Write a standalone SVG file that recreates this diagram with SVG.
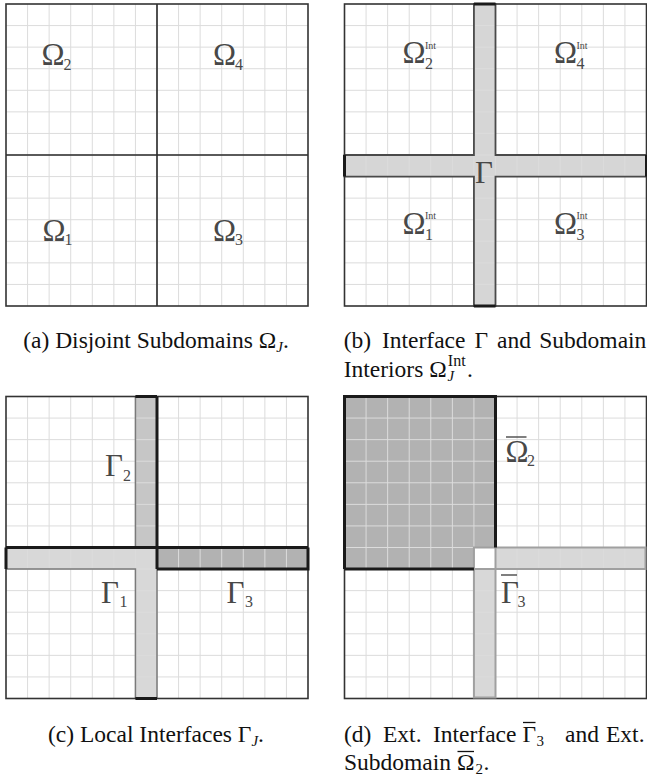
<svg xmlns="http://www.w3.org/2000/svg" xmlns:xlink="http://www.w3.org/1999/xlink" width="647" height="781" viewBox="0 0 647 781">
<style>
.grid{fill:none;stroke:#dcdcdc;stroke-width:1}
.border{fill:none;stroke:#333;stroke-width:1.6}
.div{fill:none;stroke:#2a2a2a;stroke-width:1.6}
.thick{fill:none;stroke:#1a1a1a;stroke-width:3}
.thin{fill:none;stroke:#7a7a7a;stroke-width:1.5}
.lab{font-family:"Liberation Serif","Times New Roman",serif;fill:#484848;font-size:31px}
.sub{font-size:16px}
.sup{font-size:10px}
.cap{font-family:"Liberation Serif","Times New Roman",serif;fill:#111;font-size:23.5px}
.csub{font-size:15px;font-style:italic}
.bar{stroke:#484848;stroke-width:1.4}
.cbar{stroke:#111;stroke-width:1.3}
</style>
<defs>
<path id="grid" class="grid" d="M21.57 0V302M43.14 0V302M64.71 0V302M86.29 0V302M107.86 0V302M129.43 0V302M151 0V302M172.57 0V302M194.14 0V302M215.71 0V302M237.29 0V302M258.86 0V302M280.43 0V302M0 21.57H302M0 43.14H302M0 64.71H302M0 86.29H302M0 107.86H302M0 129.43H302M0 151H302M0 172.57H302M0 194.14H302M0 215.71H302M0 237.29H302M0 258.86H302M0 280.43H302"/>
</defs>
<rect width="647" height="781" fill="#fff"/>

<!-- Panel (a) -->
<g id="panel-a" transform="translate(6,4)">
  <use xlink:href="#grid" href="#grid"/>
  <path class="div" d="M151 0V302M0 151H302"/>
  <rect class="border" width="302" height="302"/>
  <g id="a-omega2"><text class="lab" x="35.5" y="61">Ω</text><text class="lab sub" x="57.5" y="65.5">2</text></g>
  <g id="a-omega4"><text class="lab" x="207" y="61">Ω</text><text class="lab sub" x="229" y="65.5">4</text></g>
  <g id="a-omega1"><text class="lab" x="36.5" y="236.7">Ω</text><text class="lab sub" x="58.5" y="241">1</text></g>
  <g id="a-omega3"><text class="lab" x="207" y="236.7">Ω</text><text class="lab sub" x="229" y="241">3</text></g>
</g>

<!-- Panel (b) -->
<g id="panel-b" transform="translate(344.5,4)">
  <path id="b-gamma-band" d="M129.43 0H151V151H302V172.57H151V302H129.43V172.57H0V151H129.43Z" fill="#d6d6d6"/>
  <use xlink:href="#grid" href="#grid"/>
  <path d="M129.43 0H151V151H302V172.57H151V302H129.43V172.57H0V151H129.43Z" fill="none" stroke="#4a4a4a" stroke-width="1.8"/>
  <rect class="border" width="302" height="302"/>
  <path class="thick" d="M129.43 0H151M129.43 302H151M0 151V172.57M302 151V172.57"/>
  <g id="b-omega2"><text class="lab" x="58" y="59">Ω</text><text class="lab sup" x="80.5" y="44.5">Int</text><text class="lab sub" x="80.5" y="64.5">2</text></g>
  <g id="b-omega4"><text class="lab" x="209.5" y="59">Ω</text><text class="lab sup" x="232" y="44.5">Int</text><text class="lab sub" x="232" y="64.5">4</text></g>
  <g id="b-omega1"><text class="lab" x="58" y="229.5">Ω</text><text class="lab sup" x="80.5" y="215">Int</text><text class="lab sub" x="80.5" y="236">1</text></g>
  <g id="b-omega3"><text class="lab" x="209.5" y="229.5">Ω</text><text class="lab sup" x="232" y="215">Int</text><text class="lab sub" x="232" y="236">3</text></g>
  <g id="b-gamma"><text class="lab" x="130.5" y="179.3">Γ</text></g>
</g>

<!-- Panel (c) -->
<g id="panel-c" transform="translate(6,396.5)">
  <rect id="c-gamma2-fill" x="129.43" y="0" width="21.57" height="151" fill="#c6c6c6"/>
  <path id="c-gamma1-fill" d="M0 151H151V302H129.43V172.57H0Z" fill="#d8d8d8"/>
  <rect id="c-gamma3-fill" x="151" y="151" width="151" height="21.57" fill="#b2b2b2"/>
  <use xlink:href="#grid" href="#grid"/>
  <path class="thin" d="M129.43 0V151M0 172.57H129.43V302M151 172.57V302"/>
  <rect class="border" width="302" height="302"/>
  <path class="thick" d="M151 0V172.57M0 151H302M151 172.57H302V151M0 151V172.57M129.43 302H151M129.43 0H151"/>
  <g id="c-gamma2"><text class="lab" x="99" y="79.5">Γ</text><text class="lab sub" x="117" y="84">2</text></g>
  <g id="c-gamma1"><text class="lab" x="95" y="206">Γ</text><text class="lab sub" x="113.5" y="210.5">1</text></g>
  <g id="c-gamma3"><text class="lab" x="220.5" y="206">Γ</text><text class="lab sub" x="239" y="210.5">3</text></g>
</g>

<!-- Panel (d) -->
<g id="panel-d" transform="translate(344.5,396.5)">
  <path id="d-omegabar2-fill" d="M0 0H151V151H129.43V172.57H0Z" fill="#b2b2b2"/>
  <path id="d-gammabar3-fill" d="M151 151H302V172.57H151ZM129.43 172.57H151V302H129.43Z" fill="#d8d8d8"/>
  <use xlink:href="#grid" href="#grid"/>
  <rect class="border" width="302" height="302"/>
  <path fill="none" stroke="#a0a0a0" stroke-width="2" d="M151 151H301V172.57H151M129.43 172.57V301H151V172.57M129.43 151H151V172.57H129.43Z"/>
  <path class="thick" d="M0 172.57V0H151V151M0 172.57H129.43"/>
  <g id="d-omegabar2"><line class="bar" x1="161.5" y1="40.5" x2="182" y2="40.5"/><text class="lab" x="161" y="65">Ω</text><text class="lab sub" x="182.5" y="69.5">2</text></g>
  <g id="d-gammabar3"><line class="bar" x1="156.5" y1="178.5" x2="172.5" y2="178.5"/><text class="lab" x="156.5" y="206.5">Γ</text><text class="lab sub" x="173" y="210">3</text></g>
</g>

<!-- Captions -->
<g id="captions">
  <text class="cap" x="156" y="347.7" text-anchor="middle">(a) Disjoint Subdomains Ω<tspan class="csub" dy="4">J</tspan><tspan dy="-4">.</tspan></text>
  <text class="cap" y="347.7"><tspan x="343.7">(b)</tspan><tspan x="382">Interface</tspan><tspan x="474.5">Γ</tspan><tspan x="497">and</tspan><tspan x="539.3">Subdomain</tspan></text>
  <text class="cap" y="377"><tspan x="343.7">Interiors</tspan><tspan x="429.2">Ω</tspan><tspan class="csub" x="447.5" y="381">J</tspan><tspan x="447.8" y="366" font-size="16">Int</tspan><tspan x="467" y="377">.</tspan></text>
  <text class="cap" x="156" y="741.7" text-anchor="middle">(c) Local Interfaces Γ<tspan class="csub" dy="4">J</tspan><tspan dy="-4">.</tspan></text>
  <text class="cap" y="741.7"><tspan x="344">(d)</tspan><tspan x="383">Ext.</tspan><tspan x="433">Interface</tspan><tspan x="522.5">Γ</tspan><tspan x="536.5" y="745.5" font-size="15">3</tspan><tspan x="565" y="741.7">and</tspan><tspan x="606">Ext.</tspan></text>
  <line class="cbar" x1="523" y1="722.5" x2="535.5" y2="722.5"/>
  <text class="cap" y="770"><tspan x="344">Subdomain</tspan><tspan x="457">Ω</tspan><tspan x="475.5" y="774" font-size="15">2</tspan><tspan x="483.5" y="770">.</tspan></text>
  <line class="cbar" x1="457.5" y1="751.5" x2="474" y2="751.5"/>
</g>
</svg>
